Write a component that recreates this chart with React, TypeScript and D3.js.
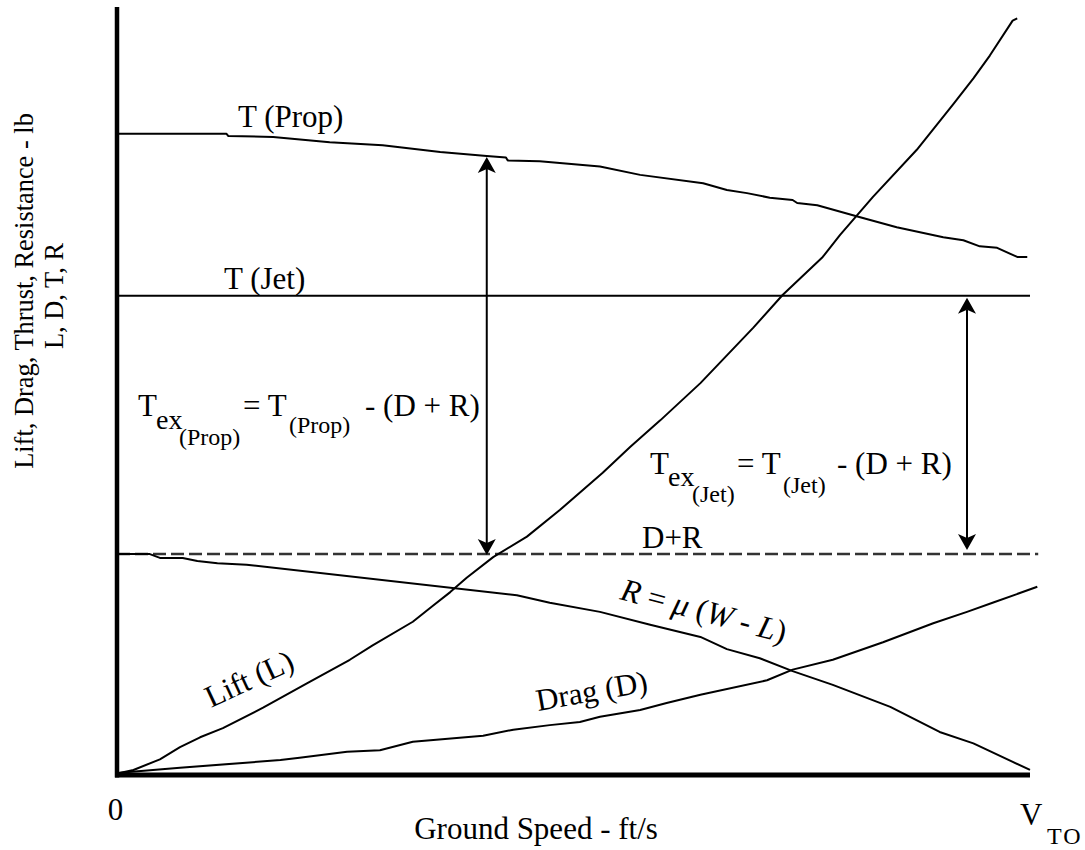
import React from "react";
import * as d3 from "d3";

// ---- Data (x: % of V_TO, y: force in arbitrary lb units) ----
const thrustProp: [number, number][] = [
  [0, 84.1], [12.0, 84.1], [12.2, 83.8], [17.1, 83.7], [23.3, 83.0], [29.1, 82.6],
  [35.4, 81.7], [40.5, 81.2], [42.6, 81.0], [42.8, 80.6], [46.3, 80.5], [52.9, 79.8],
  [57.3, 78.7], [64.2, 77.6], [66.8, 76.7], [69.0, 76.3], [71.5, 75.7], [74.0, 75.4],
  [74.5, 75.0], [76.7, 74.7], [81.2, 73.2], [85.4, 71.8], [90.5, 70.5], [92.7, 70.1],
  [94.5, 69.3], [96.4, 69.1], [98.6, 67.9], [99.7, 67.9],
];
const thrustJet = 62.8;
const dragPlusResistance = 28.8;
const lift: [number, number][] = [
  [0, 0], [0.3, 0], [1.8, 0.4], [4.7, 1.8], [6.9, 3.4], [9.1, 4.7], [11.6, 5.9],
  [16.0, 8.6], [20.8, 11.8], [25.5, 14.9], [28.0, 16.8], [32.4, 19.9], [34.6, 22.0],
  [36.5, 23.8], [38.3, 25.7], [41.2, 28.4], [44.9, 31.1], [48.5, 34.6], [53.2, 39.5],
  [56.2, 42.9], [59.5, 46.4], [63.9, 51.3], [69.7, 58.6], [72.9, 62.9], [77.3, 67.9],
  [79.2, 70.8], [82.8, 75.8], [87.6, 82.0], [91.6, 88.0], [93.8, 91.4], [95.6, 94.4],
  [98.1, 99.0], [98.6, 99.3],
];
const drag: [number, number][] = [
  [0, 0], [6.9, 0.7], [17.9, 1.7], [20.0, 2.0], [25.2, 2.8], [28.8, 3.0], [32.4, 4.1],
  [40.1, 4.9], [43.4, 5.7], [47.4, 6.3], [50.7, 6.7], [52.9, 7.4], [57.3, 8.3],
  [60.2, 9.2], [63.9, 10.3], [71.2, 12.2], [74.0, 13.6], [78.4, 14.9], [83.9, 17.2],
  [89.4, 19.7], [93.1, 21.2], [95.9, 22.4], [100.8, 24.5],
];
const resistance: [number, number][] = [
  [0, 28.8], [3.6, 28.8], [4.7, 28.3], [7.2, 28.3], [8.8, 27.9], [11.0, 27.6],
  [14.2, 27.4], [43.8, 23.4], [47.4, 22.4], [52.9, 21.2], [58.4, 19.5], [63.9, 17.9],
  [66.8, 16.3], [70.4, 15.1], [74.0, 13.4], [78.4, 11.6], [84.7, 8.7], [90.1, 5.4],
  [93.8, 3.9], [100, 0.4],
];
const propArrowX = 40.5;
const propArrowTop = 81.2;
const jetArrowX = 93.1;
const xMax = 100;
const dashedEnd = 100.9;
const yAxisTop = 100.8;

const FONT = "Liberation Serif";
const F = 31;

type TP = {
  x?: number; y?: number; size?: number; transform?: string; anchor?: string;
  children: React.ReactNode; ls?: number;
};
function T({ x, y, size = F, transform, anchor = "start", children, ls }: TP) {
  return (
    <text
      x={x}
      y={y}
      transform={transform}
      textAnchor={anchor}
      fill="#000"
      style={{ fontFamily: FONT, fontSize: size, letterSpacing: ls }}
    >
      {children}
    </text>
  );
}
function I({ children }: { children: React.ReactNode }) {
  return <tspan style={{ fontFamily: FONT, fontStyle: "italic" }}>{children}</tspan>;
}

function Arrow({ x, y1, y2 }: { x: number; y1: number; y2: number }) {
  const L = 16, W = 9, N = 12;
  return (
    <g>
      <line x1={x} x2={x} y1={y1 + N} y2={y2 - N} stroke="#000" strokeWidth={2} />
      <path d={`M${x},${y1} L${x - W},${y1 + L} L${x},${y1 + N} L${x + W},${y1 + L} Z`} fill="#000" />
      <path d={`M${x},${y2} L${x - W},${y2 - L} L${x},${y2 - N} L${x + W},${y2 - L} Z`} fill="#000" />
    </g>
  );
}

export default function App() {
  const xScale = d3.scaleLinear().domain([0, 100]).range([117, 1030]);
  const yScale = d3.scaleLinear().domain([0, 100]).range([773, 13]);
  const line = d3
    .line<[number, number]>()
    .x((d) => xScale(d[0]))
    .y((d) => yScale(d[1]));

  const curveStyle = { fill: "none", stroke: "#000", strokeWidth: 2, strokeLinejoin: "round" as const };

  return (
    <svg
      width={1085}
      height={850}
      style={{ position: "absolute", left: 0, top: 0, display: "block", background: "#fff" }}
    >
      <rect x={0} y={0} width={1085} height={850} fill="#fff" />
      {/* curves */}
      <path d={line(thrustProp) || ""} {...curveStyle} />
      <line x1={xScale(0)} x2={xScale(xMax)} y1={yScale(thrustJet)} y2={yScale(thrustJet)} stroke="#000" strokeWidth={2} />
      <line
        x1={xScale(0)}
        x2={xScale(dashedEnd)}
        y1={yScale(dragPlusResistance)}
        y2={yScale(dragPlusResistance)}
        stroke="#333"
        strokeWidth={2.5}
        strokeDasharray="13,5"
      />
      <path d={line(lift) || ""} {...curveStyle} />
      <path d={line(drag) || ""} {...curveStyle} />
      <path d={line(resistance) || ""} {...curveStyle} />

      {/* arrows */}
      <Arrow x={xScale(propArrowX)} y1={yScale(propArrowTop) + 1} y2={yScale(dragPlusResistance) + 1} />
      <Arrow x={xScale(jetArrowX)} y1={yScale(thrustJet) + 2} y2={yScale(dragPlusResistance) - 4} />

      {/* axes */}
      <line x1={xScale(0)} x2={xScale(0)} y1={yScale(0) + 4.5} y2={yScale(yAxisTop)} stroke="#000" strokeWidth={4.5} />
      <line x1={xScale(0) - 2} x2={xScale(xMax)} y1={yScale(0) + 2} y2={yScale(0) + 2} stroke="#000" strokeWidth={5} />

      {/* labels */}
      <T x={238} y={127}>T (Prop)</T>
      <T x={224} y={289}>T (Jet)</T>
      <T x={642} y={548}>D+R</T>

      {/* Prop formula */}
      <T x={138} y={416}>T</T>
      <T x={156} y={429} size={28}>ex</T>
      <T x={179} y={445} size={24}>(Prop)</T>
      <T x={243} y={416}>= T</T>
      <T x={289} y={433} size={24}>(Prop)</T>
      <T x={365} y={416}>- (D + R)</T>

      {/* Jet formula */}
      <T x={650} y={474}>T</T>
      <T x={668} y={486} size={28}>ex</T>
      <T x={692} y={502} size={24}>(Jet)</T>
      <T x={737} y={474}>= T</T>
      <T x={783} y={493} size={24}>(Jet)</T>
      <T x={837} y={474}>- (D + R)</T>

      {/* rotated curve labels */}
      <T transform="translate(619,599) rotate(15)" size={32}>
        <I>R</I> = <I>μ</I> (<I>W</I> - <I>L</I>)
      </T>
      <T transform="translate(211,708) rotate(-25)">Lift (L)</T>
      <T transform="translate(538,711) rotate(-10)">Drag (D)</T>

      {/* axis labels */}
      <T x={115.5} y={820} anchor="middle">0</T>
      <T x={536} y={839} anchor="middle">Ground Speed - ft/s</T>
      <T x={1020} y={825}>V</T>
      <T x={1047} y={844} size={24} ls={2}>TO</T>

      <T transform="translate(33,291) rotate(-90)" size={26.4} anchor="middle">
        Lift, Drag, Thrust, Resistance - lb
      </T>
      <T transform="translate(63,296) rotate(-90)" size={26.4} anchor="middle">
        L, D, T, R
      </T>
    </svg>
  );
}
